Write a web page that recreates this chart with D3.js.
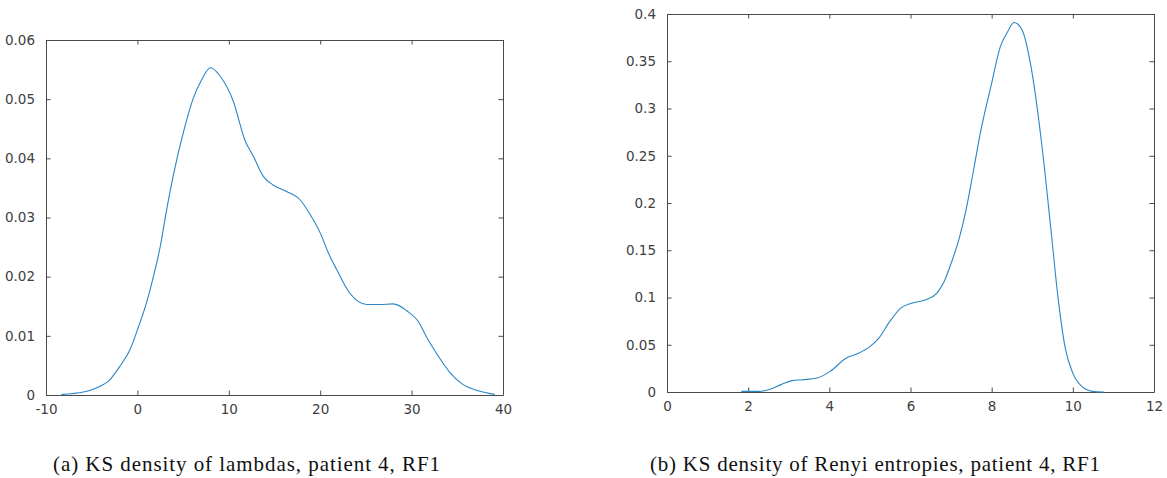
<!DOCTYPE html>
<html>
<head>
<meta charset="utf-8">
<script src="https://d3js.org/d3.v7.min.js"></script>
<style>
  body { margin: 0; background: #fff; }
  .tick text { font-family: "DejaVu Sans", sans-serif; font-size: 13.5px; fill: #404040; }
  .caption { font-family: "Liberation Serif", serif; font-size: 21px; fill: #111; }
</style>
</head>
<body>
<div id="chart"></div>
<script>
// left panel: KS density of lambdas
const lambdaX = [-8.3, -5.9, -4.5, -3.0, -1.9, -0.8, 0, 1.0, 1.75, 2.5, 3.2, 3.9, 5.0, 6.1, 7.0, 8.0, 9.0, 10.5, 11.75, 12.7, 13.8, 14.85, 16.3, 17.8, 18.9, 20.0, 20.9, 21.8, 23.25, 25.1, 26.5, 28.0, 29.5, 30.7, 31.6, 32.7, 34.2, 35.6, 37.1, 39.1];
const lambdaY = [0.0001, 0.0005, 0.0012, 0.0026, 0.0049, 0.0077, 0.011, 0.0156, 0.0200, 0.0251, 0.0313, 0.0369, 0.0442, 0.0501, 0.0532, 0.0553, 0.0540, 0.0496, 0.0431, 0.0403, 0.0369, 0.0355, 0.0344, 0.0330, 0.0305, 0.0274, 0.0240, 0.0212, 0.0172, 0.0153, 0.0153, 0.0154, 0.0142, 0.0125, 0.0099, 0.0071, 0.0038, 0.0018, 0.0008, 0.0001];
const lambdaXTicks = [-10, 0, 10, 20, 30, 40];
const lambdaYTicks = [0, 0.01, 0.02, 0.03, 0.04, 0.05, 0.06];

// right panel: KS density of Renyi entropies
const renyiX = [1.83, 2.28, 2.54, 2.81, 3.08, 3.35, 3.7, 4.02, 4.42, 4.69, 5.0, 5.22, 5.49, 5.76, 6.03, 6.38, 6.65, 6.83, 7.0, 7.19, 7.37, 7.54, 7.72, 7.99, 8.21, 8.39, 8.55, 8.75, 8.97, 9.24, 9.46, 9.64, 9.82, 10.0, 10.22, 10.49, 10.76];
const renyiY = [0.0007, 0.0007, 0.003, 0.0078, 0.012, 0.013, 0.0148, 0.0218, 0.036, 0.0405, 0.048, 0.057, 0.0747, 0.0888, 0.094, 0.0976, 0.1047, 0.117, 0.136, 0.161, 0.193, 0.2315, 0.274, 0.325, 0.365, 0.381, 0.391, 0.383, 0.344, 0.26, 0.172, 0.098, 0.045, 0.020, 0.006, 0.0007, 0];
const renyiXTicks = [0, 2, 4, 6, 8, 10, 12];
const renyiYTicks = [0, 0.05, 0.1, 0.15, 0.2, 0.25, 0.3, 0.35, 0.4];

const captions = ["(a) KS density of lambdas, patient 4, RF1", "(b) KS density of Renyi entropies, patient 4, RF1"];

const svg = d3.select("#chart").append("svg")
  .attr("width", 1167).attr("height", 478);

function panel(box, xs, ys, xTicks, yTicks, caption, cap) {
  const x = d3.scaleLinear().domain(d3.extent(xTicks)).range([box.left, box.right]);
  const y = d3.scaleLinear().domain(d3.extent(yTicks)).range([box.bottom, box.top]);
  const tl = 4.5;
  const g = svg.append("g");

  const fmt = d => String(d);

  // bottom / top
  g.append("g").attr("transform", "translate(0," + box.bottom + ")")
    .call(d3.axisBottom(x).tickValues(xTicks).tickSizeInner(-tl).tickSizeOuter(0).tickPadding(9).tickFormat(fmt));
  g.append("g").attr("transform", "translate(0," + box.top + ")")
    .call(d3.axisTop(x).tickValues(xTicks).tickSizeInner(-tl).tickSizeOuter(0).tickFormat(""));
  // left / right
  g.append("g").attr("transform", "translate(" + box.left + ",0)")
    .call(d3.axisLeft(y).tickValues(yTicks).tickSizeInner(-tl).tickSizeOuter(0).tickPadding(11).tickFormat(fmt));
  g.append("g").attr("transform", "translate(" + box.right + ",0)")
    .call(d3.axisRight(y).tickValues(yTicks).tickSizeInner(-tl).tickSizeOuter(0).tickFormat(""));

  g.selectAll(".domain").attr("stroke", "#4a4a4a");
  g.selectAll(".tick line").attr("stroke", "#4a4a4a");

  const pts = xs.map((v, i) => [v, ys[i]]);
  g.append("path")
    .datum(pts)
    .attr("fill", "none")
    .attr("stroke", "#2a86c4")
    .attr("stroke-width", 1.1)
    .attr("d", d3.line().x(d => x(d[0])).y(d => y(d[1])).curve(d3.curveMonotoneX));

  svg.append("text").attr("class", "caption")
    .attr("x", cap.x).attr("y", 471)
    .attr("textLength", cap.w).attr("lengthAdjust", "spacing")
    .text(caption);
}

panel({left: 46, right: 503, top: 40, bottom: 395}, lambdaX, lambdaY, lambdaXTicks, lambdaYTicks, captions[0], {x: 53, w: 387});
panel({left: 667, right: 1154, top: 14, bottom: 392}, renyiX, renyiY, renyiXTicks, renyiYTicks, captions[1], {x: 650, w: 450});
</script>
</body>
</html>
